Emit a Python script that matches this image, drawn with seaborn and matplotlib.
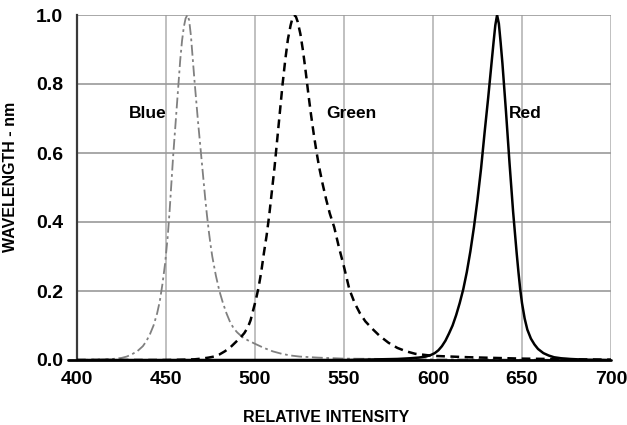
import matplotlib
matplotlib.use("Agg")
import matplotlib.pyplot as plt
import seaborn as sns
import pandas as pd

# ---- data ----
blue_x = [400, 410, 420, 425, 428, 431, 434, 437, 439, 441, 443, 445, 446.5, 448, 449.5, 451, 452, 453, 454, 455,
          456, 457, 458, 459, 460, 461, 462, 463, 464, 465, 466, 467, 468, 469, 470, 471, 472, 473, 474, 475, 476,
          478, 480, 482, 484, 486, 488, 490, 493, 496, 500, 505, 510, 515, 520, 525, 535, 550, 575, 600, 650, 700]
blue_y = [0.0, 0.001, 0.003, 0.006, 0.01, 0.017, 0.026, 0.04, 0.055, 0.075, 0.1, 0.135, 0.17, 0.22, 0.28, 0.36, 0.43, 0.51, 0.59, 0.66,
          0.73, 0.8, 0.87, 0.925, 0.965, 0.99, 1.0, 0.985, 0.94, 0.875, 0.81, 0.75, 0.69, 0.635, 0.58, 0.525, 0.47, 0.42, 0.375, 0.335, 0.3,
          0.245, 0.2, 0.165, 0.135, 0.11, 0.092, 0.08, 0.066, 0.057, 0.047, 0.035, 0.025, 0.018, 0.013, 0.01, 0.007, 0.004, 0.003, 0.002, 0.001, 0.0]

green_x = [400, 450, 460, 466, 470, 474, 477, 480, 483, 486, 488, 490, 492, 494, 496, 497.5, 499, 500.5, 502, 503.5,
           505, 506.5, 508, 509.5, 511, 512.5, 514, 515.5, 517, 518.5, 520, 521, 522, 523, 524, 525.5, 527, 528.5, 530,
           531.5, 533, 534.5, 536, 538, 540, 542, 544.5, 547, 550, 553, 556, 559, 562, 566, 570, 575, 580, 585, 590,
           600, 620, 650, 680, 700]
green_y = [0.0, 0.0, 0.001, 0.002, 0.004, 0.007, 0.01, 0.016, 0.025, 0.036, 0.046, 0.056, 0.066, 0.078, 0.095, 0.115, 0.145, 0.175, 0.21, 0.255,
           0.31, 0.36, 0.42, 0.49, 0.56, 0.64, 0.72, 0.8, 0.87, 0.93, 0.97, 0.99, 1.0, 0.995, 0.98, 0.945, 0.895, 0.835, 0.77,
           0.71, 0.655, 0.605, 0.56, 0.51, 0.465, 0.425, 0.385, 0.33, 0.27, 0.205, 0.165, 0.135, 0.112, 0.09, 0.07, 0.05, 0.035, 0.025, 0.018,
           0.012, 0.008, 0.004, 0.002, 0.001]

red_x = [400, 550, 570, 580, 587, 592, 596, 599, 601, 603, 605, 607, 609, 611, 613, 615, 617, 619, 621, 623, 625, 627,
         629, 631, 632.5, 634, 635, 636, 637, 638, 639, 640, 641, 642, 643, 644, 645, 646, 647, 648, 649, 650, 651.5,
         653, 655, 657, 659, 662, 665, 668, 672, 677, 685, 700]
red_y = [0.0, 0.0, 0.002, 0.003, 0.005, 0.007, 0.01, 0.015, 0.02, 0.028, 0.04, 0.056, 0.077, 0.1, 0.13, 0.165, 0.205, 0.255, 0.315, 0.385, 0.465, 0.555,
         0.66, 0.76, 0.84, 0.92, 0.97, 1.0, 0.975, 0.92, 0.86, 0.79, 0.72, 0.645, 0.57, 0.5, 0.43, 0.37, 0.31, 0.255, 0.205, 0.165, 0.12,
         0.088, 0.062, 0.045, 0.032, 0.02, 0.013, 0.008, 0.005, 0.003, 0.001, 0.0]

x_ticks = [400, 450, 500, 550, 600, 650, 700]
y_ticks = [0.0, 0.2, 0.4, 0.6, 0.8, 1.0]
y_tick_labels = ["0.0", "0.2", "0.4", "0.6", "0.8", "1.0"]
series_labels = ["Blue", "Green", "Red"]
label_pos_x = [440, 554, 652]
label_pos_y = [0.715, 0.715, 0.715]

# ---- style ----
sns.set_style("white")
plt.rcParams["font.family"] = ["Liberation Sans", "DejaVu Sans"]
plt.rcParams["font.weight"] = "bold"
plt.rcParams["text.color"] = "black"
plt.rcParams["axes.labelcolor"] = "black"

fig = plt.figure(figsize=(6.27, 4.25), dpi=100)
ax = fig.add_axes([77 / 627, 1 - 360 / 425, 534 / 627, 345 / 425])

df_b = pd.DataFrame({"x": blue_x, "y": blue_y})
df_g = pd.DataFrame({"x": green_x, "y": green_y})
df_r = pd.DataFrame({"x": red_x, "y": red_y})

sns.lineplot(data=df_b, x="x", y="y", ax=ax, color="#808080", linewidth=1.3,
             linestyle=(0, (6, 2, 1.5, 2)), zorder=3)
sns.lineplot(data=df_g, x="x", y="y", ax=ax, color="black", linewidth=1.8,
             linestyle=(0, (3.5, 2.2)), zorder=4)
sns.lineplot(data=df_r, x="x", y="y", ax=ax, color="black", linewidth=1.8,
             linestyle="-", zorder=5)

ax.set_xlim(400, 700)
ax.set_ylim(0, 1.0)
ax.set_xticks(x_ticks)
ax.set_xticklabels([str(t) for t in x_ticks])
ax.set_yticks(y_ticks)
ax.set_yticklabels(y_tick_labels)

for t in ax.get_xticklabels() + ax.get_yticklabels():
    t.set_fontsize(14)
    t.set_fontweight("bold")

ax.grid(False)
for xv in x_ticks[1:]:
    ax.axvline(xv, color="#b5b5b5", linewidth=1.2, zorder=1)
for yv in y_ticks[1:]:
    ax.axhline(yv, color="#9a9a9a", linewidth=1.2, zorder=1)

ax.tick_params(axis="x", length=5, width=1.2, color="#b5b5b5", pad=3, labelcolor="black")
ax.tick_params(axis="y", length=5, width=1.2, color="#9a9a9a", pad=5, labelcolor="black")

for s in ["top", "right"]:
    ax.spines[s].set_visible(False)
ax.spines["left"].set_color("#3a3a3a")
ax.spines["left"].set_linewidth(1.6)
ax.spines["bottom"].set_visible(False)
ax.plot([-0.017, 1.0], [0, 0], transform=ax.transAxes, color="black",
        linewidth=2.0, clip_on=False, zorder=6)

ax.set_xlabel("RELATIVE INTENSITY", fontsize=11.5, fontweight="bold", color="black")
ax.set_ylabel("WAVELENGTH - nm", fontsize=11.5, fontweight="bold", color="black")
ax.xaxis.set_label_coords(0.466, -0.145)
ax.yaxis.set_label_coords(-0.11, 0.53)

for lab, lx, ly in zip(series_labels, label_pos_x, label_pos_y):
    ax.text(lx, ly, lab, fontsize=12.5, fontweight="bold", color="black",
            ha="center", va="center", zorder=7)

fig.savefig("out.png", dpi=100)
